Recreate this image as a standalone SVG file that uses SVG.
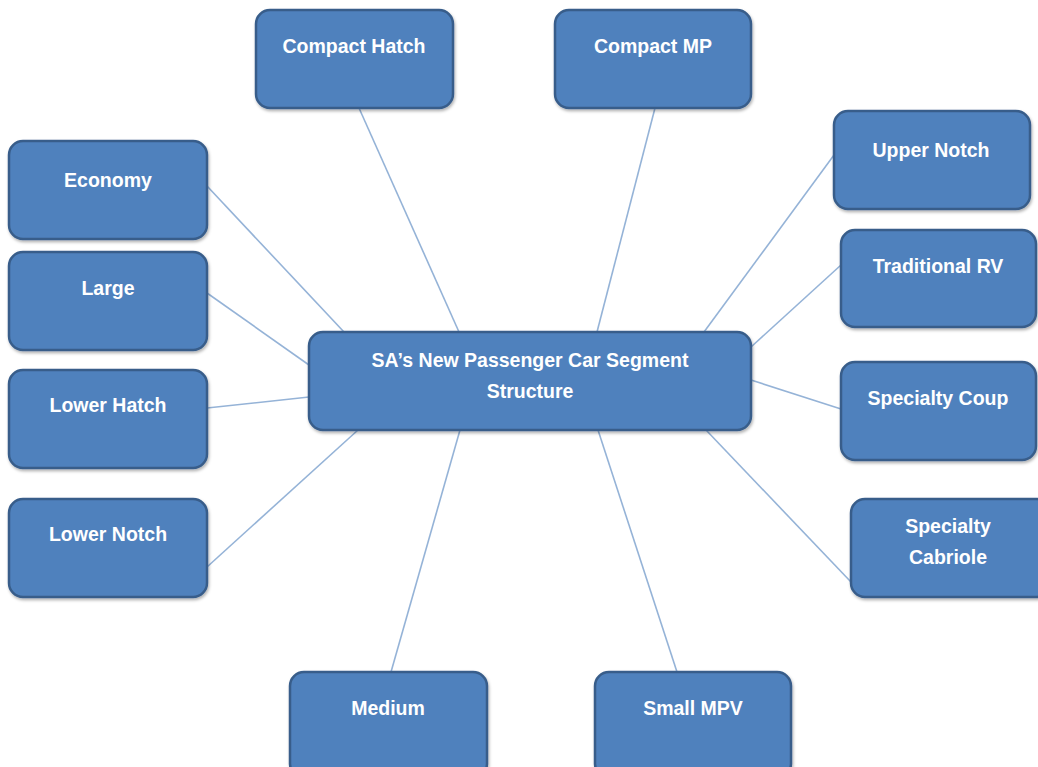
<svg xmlns="http://www.w3.org/2000/svg" width="1038" height="767" viewBox="0 0 1038 767">
  <style>
    .box { fill: #4f81bd; stroke: #385d8a; stroke-width: 2.5; filter: url(#shadow); }
    .lbl { fill: #ffffff; font-family: "Liberation Sans", Arial, sans-serif; font-weight: bold; font-size: 19.5px; text-anchor: middle; }
    .link { stroke: #95b3d7; stroke-width: 1.6; fill: none; }
  </style>
  <defs>
    <filter id="shadow" x="-10%" y="-10%" width="120%" height="130%">
      <feDropShadow dx="1" dy="2" stdDeviation="1.5" flood-color="#000000" flood-opacity="0.3"/>
    </filter>
  </defs>
  <rect width="1038" height="767" fill="#ffffff"/>

  <g id="connectors">
    <line class="link" x1="359" y1="108" x2="459" y2="332"/>
    <line class="link" x1="655" y1="108" x2="597" y2="332"/>
    <line class="link" x1="207" y1="186" x2="344" y2="332"/>
    <line class="link" x1="207" y1="293" x2="309" y2="365"/>
    <line class="link" x1="207" y1="408" x2="309" y2="397"/>
    <line class="link" x1="207" y1="567" x2="358" y2="430"/>
    <line class="link" x1="834" y1="155" x2="704" y2="332"/>
    <line class="link" x1="841" y1="265" x2="751" y2="347"/>
    <line class="link" x1="751" y1="380" x2="841" y2="409"/>
    <line class="link" x1="706" y1="430" x2="851" y2="582"/>
    <line class="link" x1="460" y1="430" x2="391" y2="672"/>
    <line class="link" x1="598" y1="430" x2="677" y2="672"/>
  </g>

  <g id="center">
    <rect class="box" x="309" y="332" width="442" height="98" rx="14"/>
    <text class="lbl" x="530" y="367">SA’s New Passenger Car Segment</text>
    <text class="lbl" x="530" y="398">Structure</text>
  </g>
  <g id="compact-hatch">
    <rect class="box" x="256" y="10" width="197" height="98" rx="14"/>
    <text class="lbl" x="354" y="53">Compact Hatch</text>
  </g>
  <g id="compact-mp">
    <rect class="box" x="555" y="10" width="196" height="98" rx="14"/>
    <text class="lbl" x="653" y="53">Compact MP</text>
  </g>
  <g id="economy">
    <rect class="box" x="9" y="141" width="198" height="98" rx="14"/>
    <text class="lbl" x="108" y="187">Economy</text>
  </g>
  <g id="large">
    <rect class="box" x="9" y="252" width="198" height="98" rx="14"/>
    <text class="lbl" x="108" y="295">Large</text>
  </g>
  <g id="lower-hatch">
    <rect class="box" x="9" y="370" width="198" height="98" rx="14"/>
    <text class="lbl" x="108" y="412">Lower Hatch</text>
  </g>
  <g id="lower-notch">
    <rect class="box" x="9" y="499" width="198" height="98" rx="14"/>
    <text class="lbl" x="108" y="541">Lower Notch</text>
  </g>
  <g id="upper-notch">
    <rect class="box" x="834" y="111" width="196" height="98" rx="14"/>
    <text class="lbl" x="931" y="157">Upper Notch</text>
  </g>
  <g id="traditional-rv">
    <rect class="box" x="841" y="230" width="195" height="97" rx="14"/>
    <text class="lbl" x="938" y="273">Traditional RV</text>
  </g>
  <g id="specialty-coup">
    <rect class="box" x="841" y="362" width="195" height="98" rx="14"/>
    <text class="lbl" x="938" y="405">Specialty Coup</text>
  </g>
  <g id="specialty-cabriole">
    <rect class="box" x="851" y="499" width="200" height="98" rx="14"/>
    <text class="lbl" x="948" y="533">Specialty</text>
    <text class="lbl" x="948" y="564">Cabriole</text>
  </g>
  <g id="medium">
    <rect class="box" x="290" y="672" width="197" height="106" rx="14"/>
    <text class="lbl" x="388" y="715">Medium</text>
  </g>
  <g id="small-mpv">
    <rect class="box" x="595" y="672" width="196" height="106" rx="14"/>
    <text class="lbl" x="693" y="715">Small MPV</text>
  </g>
</svg>
